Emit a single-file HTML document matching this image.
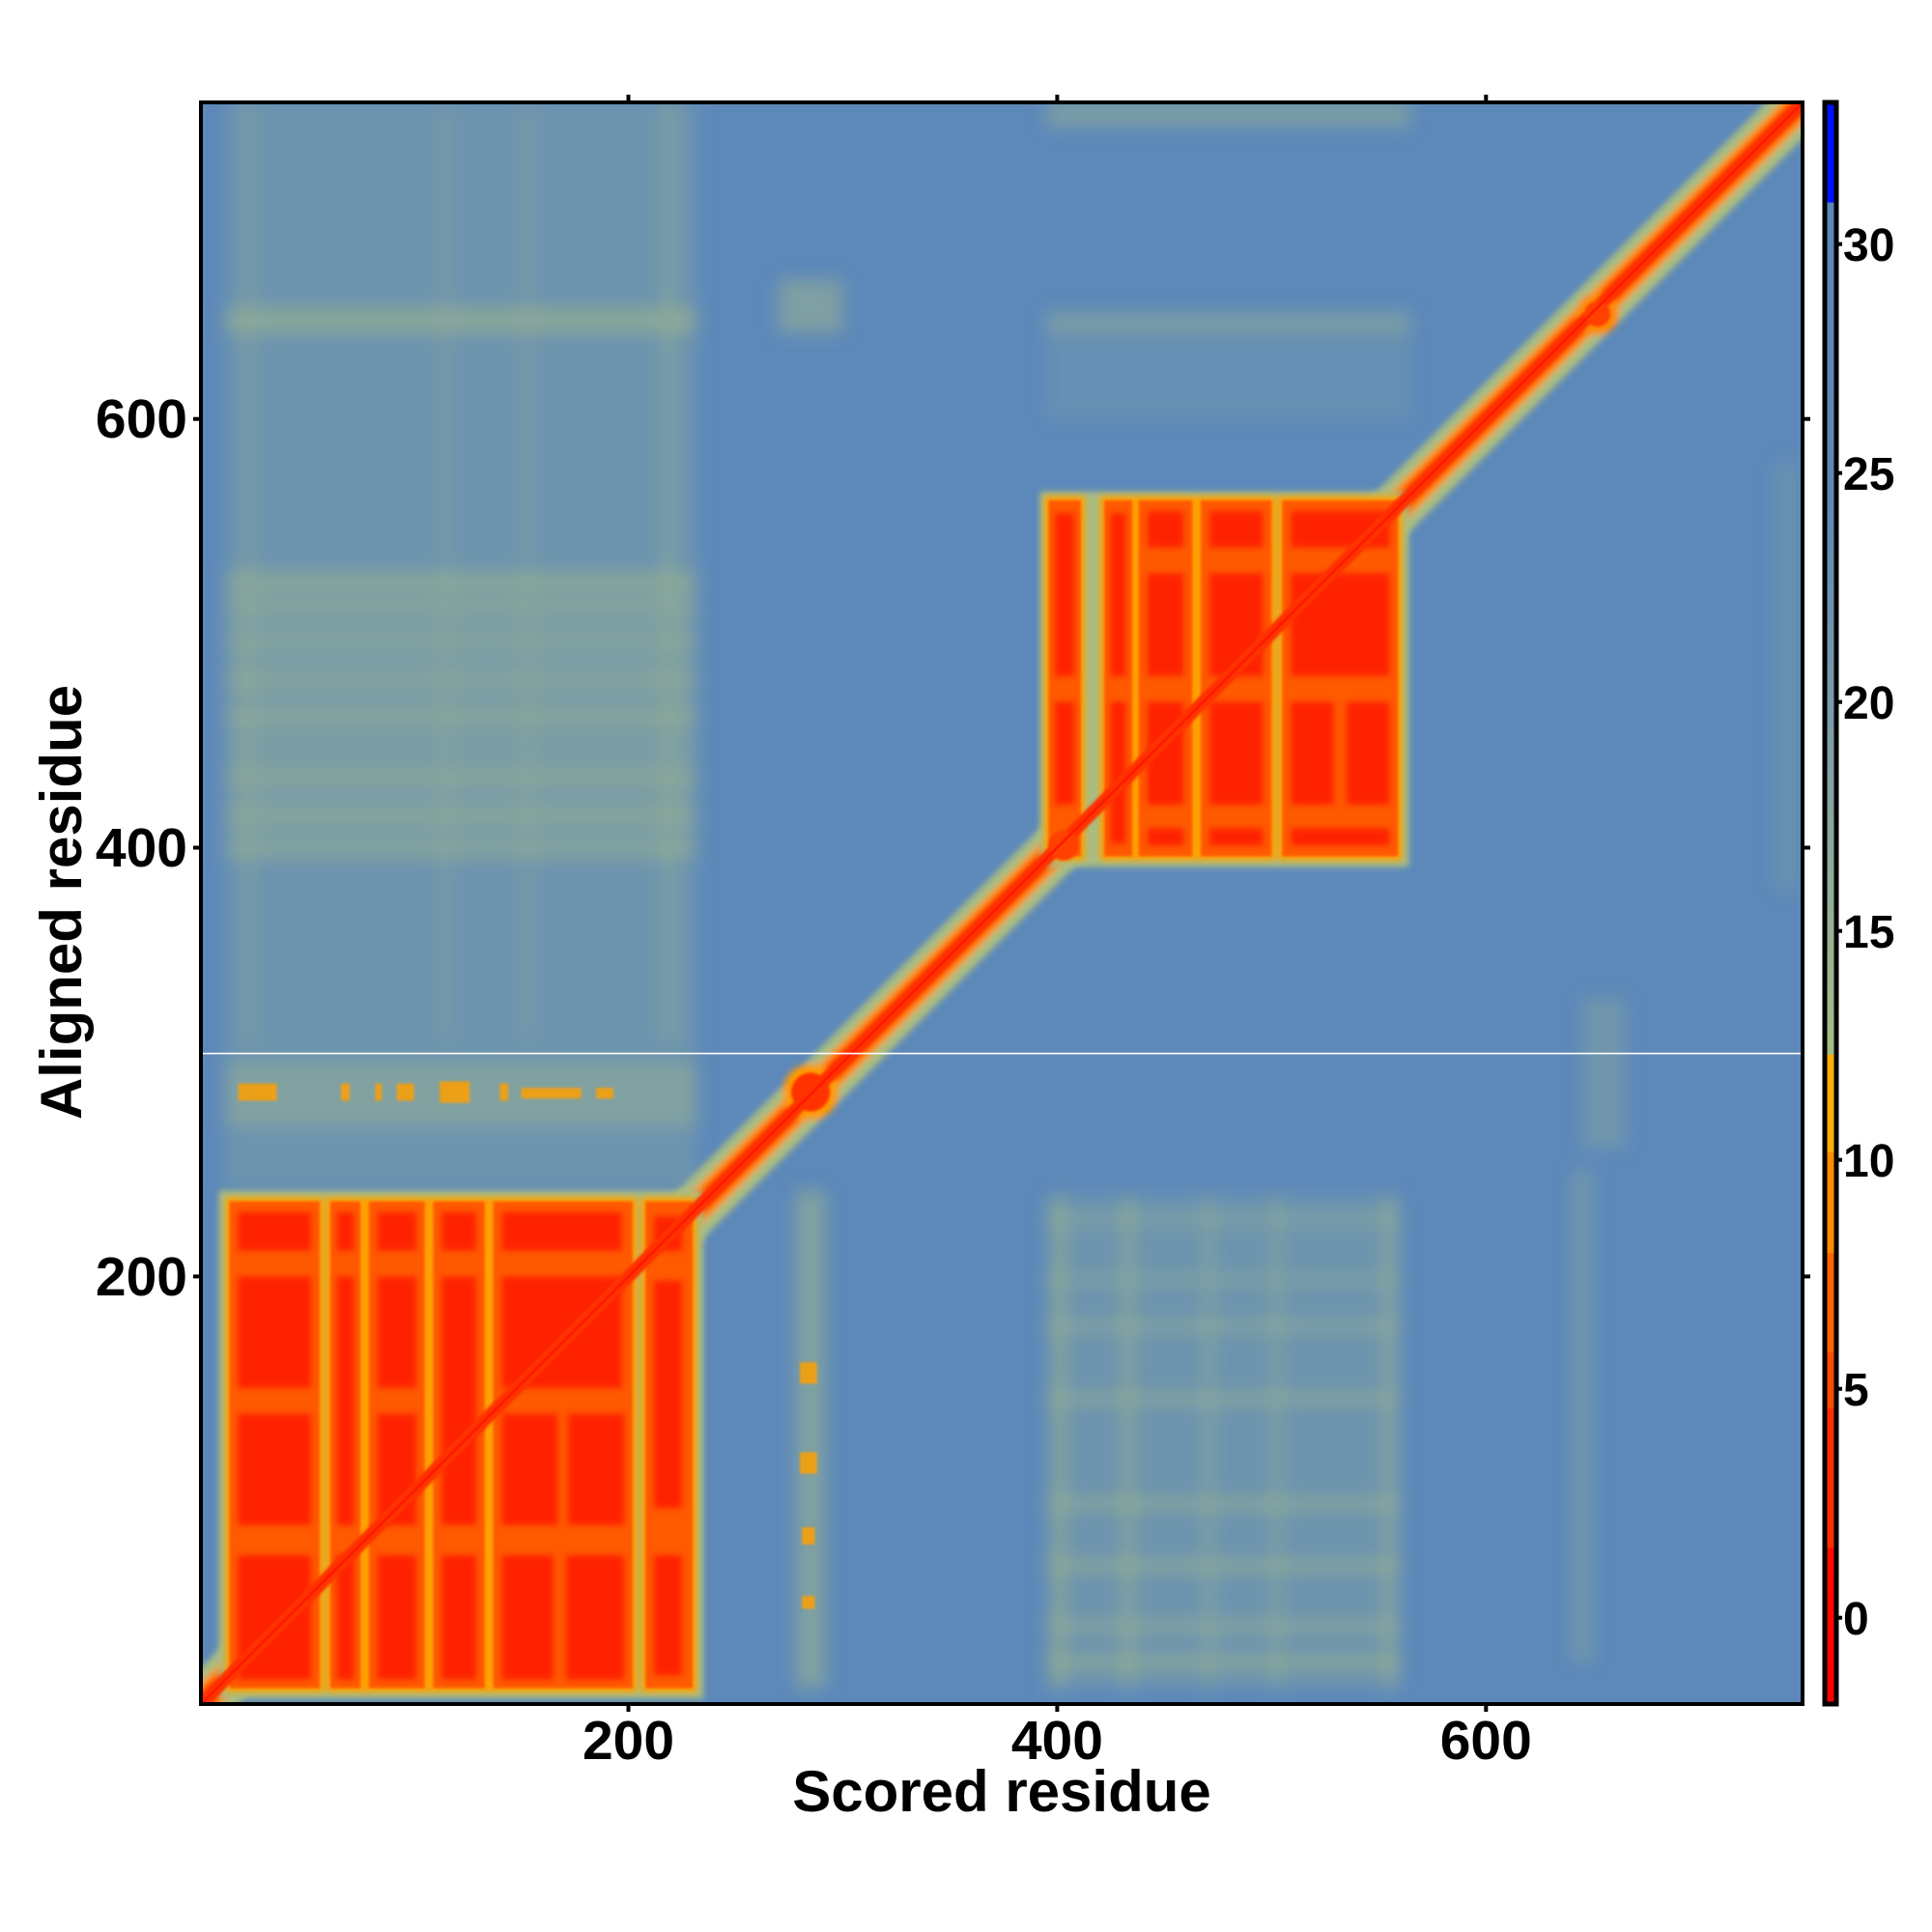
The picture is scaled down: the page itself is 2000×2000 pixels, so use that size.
<!DOCTYPE html>
<html><head><meta charset="utf-8"><style>
html,body{margin:0;padding:0;background:#fff;}
svg{display:block;}
text{font-family:"Liberation Sans",Arial,sans-serif;font-weight:bold;fill:#000;}
</style></head><body>
<svg width="2000" height="2000" viewBox="0 0 2000 2000" xmlns="http://www.w3.org/2000/svg">
<defs>
<clipPath id="c"><rect x="208" y="106" width="1658" height="1658"/></clipPath>
<filter id="b1" x="-20%" y="-20%" width="140%" height="140%"><feGaussianBlur stdDeviation="1.4"/></filter>
<filter id="b2" x="-20%" y="-20%" width="140%" height="140%"><feGaussianBlur stdDeviation="4"/></filter>
<filter id="b0" x="-20%" y="-20%" width="140%" height="140%"><feGaussianBlur stdDeviation="0.6"/></filter>
<linearGradient id="cb" x1="0" y1="0" x2="0" y2="1">
<stop offset="0" stop-color="#0010ff"/><stop offset="0.062" stop-color="#0010ff"/>
<stop offset="0.063" stop-color="#5a86b8"/>
<stop offset="0.25" stop-color="#5f88b4"/>
<stop offset="0.40" stop-color="#7f9ea8"/>
<stop offset="0.55" stop-color="#9db68e"/>
<stop offset="0.594" stop-color="#a6bc86"/>
<stop offset="0.595" stop-color="#ffb000"/><stop offset="0.655" stop-color="#ffb000"/>
<stop offset="0.656" stop-color="#ff8c00"/><stop offset="0.718" stop-color="#ff8c00"/>
<stop offset="0.719" stop-color="#ff6200"/><stop offset="0.78" stop-color="#ff6200"/>
<stop offset="0.781" stop-color="#ff4a00"/><stop offset="0.815" stop-color="#ff4a00"/>
<stop offset="0.816" stop-color="#ff2e00"/><stop offset="0.902" stop-color="#ff2e00"/>
<stop offset="0.903" stop-color="#ff0a00"/><stop offset="1" stop-color="#ff0000"/>
</linearGradient>
</defs>

<g clip-path="url(#c)">
<rect x="208" y="106" width="1658" height="1658" fill="#5d89ba"/>
<g transform="matrix(2.2195 0 0 -2.2195 206.6 1765.3)">
 <g filter="url(#b2)" fill="#9fb68c">
  <rect x="12" y="240" width="220" height="508" opacity="0.25"/>
  <rect x="12" y="640" width="220" height="12" opacity="0.55"/>
  <rect x="12" y="395" width="220" height="135" opacity="0.25"/>
  <rect x="12" y="521" width="220" height="6" opacity="0.45"/>
  <rect x="12" y="510" width="220" height="5" opacity="0.4"/>
  <rect x="12" y="494" width="220" height="5" opacity="0.35"/>
  <rect x="12" y="476" width="220" height="5" opacity="0.4"/>
  <rect x="12" y="458" width="220" height="6" opacity="0.4"/>
  <rect x="12" y="430" width="220" height="6" opacity="0.4"/>
  <rect x="12" y="412" width="220" height="6" opacity="0.4"/>
  <rect x="12" y="396" width="220" height="6" opacity="0.35"/>
  <rect x="12" y="270" width="220" height="30" opacity="0.4"/>
  <rect x="395" y="736" width="170" height="12" opacity="0.45"/>
  <rect x="395" y="600" width="170" height="50" opacity="0.15"/>
  <rect x="395" y="640" width="170" height="10" opacity="0.35"/>
  <rect x="270" y="640" width="30" height="25" opacity="0.5"/>
  <rect x="395" y="8" width="165" height="230" opacity="0.25"/>
  <rect x="278" y="8" width="14" height="232" opacity="0.55"/>
  <rect x="395" y="17" width="165" height="6" opacity="0.55"/>
  <rect x="395" y="34" width="165" height="6" opacity="0.45"/>
  <rect x="395" y="62" width="165" height="6" opacity="0.5"/>
  <rect x="395" y="91" width="165" height="6" opacity="0.5"/>
  <rect x="395" y="140" width="165" height="6" opacity="0.45"/>
  <rect x="395" y="174" width="165" height="6" opacity="0.4"/>
  <rect x="395" y="196" width="165" height="5" opacity="0.35"/>
  <rect x="395" y="224" width="165" height="5" opacity="0.35"/>
  <rect x="398" y="8" width="6" height="230" opacity="0.55"/>
  <rect x="430" y="8" width="6" height="230" opacity="0.45"/>
  <rect x="468" y="8" width="5" height="230" opacity="0.35"/>
  <rect x="500" y="8" width="5" height="230" opacity="0.35"/>
  <rect x="552" y="8" width="6" height="230" opacity="0.45"/>
  <rect x="640" y="20" width="10" height="230" opacity="0.3"/>
  <rect x="645" y="260" width="20" height="70" opacity="0.3"/>
  <rect x="20" y="310" width="6" height="438" opacity="0.25"/>
  <rect x="112" y="310" width="6" height="438" opacity="0.2"/>
  <rect x="150" y="310" width="6" height="438" opacity="0.2"/>
  <rect x="215" y="310" width="8" height="438" opacity="0.3"/>
  <rect x="735" y="380" width="10" height="200" opacity="0.2"/>
 </g>
 <g fill="#ffa000" opacity="0.85" filter="url(#b0)">
  <rect x="18" y="282" width="18" height="8"/>
  <rect x="66" y="282" width="4" height="8"/>
  <rect x="82" y="282" width="3" height="8"/>
  <rect x="92" y="282" width="8" height="8"/>
  <rect x="112" y="281" width="14" height="10"/>
  <rect x="140" y="282" width="4" height="8"/>
  <rect x="150" y="283" width="28" height="5"/>
  <rect x="185" y="283" width="8" height="5"/>
  <rect x="280" y="150" width="8" height="10"/>
  <rect x="280" y="108" width="8" height="10"/>
  <rect x="281" y="75" width="6" height="8"/>
  <rect x="281" y="45" width="6" height="6"/>
 </g>
 <g filter="url(#b1)">
  <line x1="-5" y1="-5" x2="755" y2="755" stroke="#a9bd82" stroke-width="24"/>
  <line x1="-5" y1="-5" x2="755" y2="755" stroke="#ff9a00" stroke-width="14"/>
  <line x1="-5" y1="-5" x2="755" y2="755" stroke="#ff5500" stroke-width="10"/>
  <circle cx="285" cy="286" r="13" fill="#ff9a00"/>
  <circle cx="652" cy="649" r="10" fill="#ff8a00"/>
 </g>
 <g>
  <g filter="url(#b1)" fill="#a9bd82">
   <rect x="9" y="3" width="226" height="237"/>
  </g>
  <g filter="url(#b1)" fill="#ffa000">
   <rect x="12" y="6" width="46" height="231"/><rect x="59" y="6" width="18" height="231"/>
   <rect x="77" y="6" width="30" height="231"/><rect x="107" y="6" width="28" height="231"/>
   <rect x="135" y="6" width="69" height="231"/><rect x="206" y="6" width="26" height="231"/>
  </g>
  <g fill="#ff5a00" filter="url(#b0)">
   <rect x="14" y="8" width="42" height="227"/><rect x="61" y="8" width="14" height="227"/>
   <rect x="79" y="8" width="26" height="227"/><rect x="109" y="8" width="24" height="227"/>
   <rect x="137" y="8" width="65" height="227"/><rect x="208" y="8" width="22" height="227"/>
  </g>
  <g fill="#ff2200" filter="url(#b1)">
   <rect x="18" y="12" width="34" height="58"/><rect x="18" y="84" width="34" height="52"/><rect x="18" y="148" width="34" height="52"/><rect x="18" y="212" width="34" height="18"/>
   <rect x="64" y="12" width="8" height="58"/><rect x="64" y="84" width="8" height="116"/><rect x="64" y="212" width="8" height="18"/>
   <rect x="83" y="12" width="18" height="58"/><rect x="83" y="84" width="18" height="52"/><rect x="83" y="148" width="18" height="52"/><rect x="83" y="212" width="18" height="18"/>
   <rect x="113" y="12" width="16" height="58"/><rect x="113" y="84" width="16" height="116"/><rect x="113" y="212" width="16" height="18"/>
   <rect x="141" y="12" width="24" height="58"/><rect x="171" y="12" width="27" height="58"/><rect x="141" y="84" width="26" height="52"/><rect x="172" y="84" width="26" height="52"/><rect x="141" y="148" width="56" height="52"/><rect x="141" y="212" width="56" height="18"/>
   <rect x="212" y="14" width="13" height="56"/><rect x="212" y="92" width="13" height="106"/><rect x="212" y="212" width="13" height="16"/>
  </g>
 </g>
 <g>
  <g filter="url(#b1)" fill="#a9bd82">
   <rect x="392" y="391" width="172" height="175"/>
  </g>
  <g filter="url(#b1)" fill="#ffa000">
   <rect x="394" y="394" width="19" height="170"/><rect x="420" y="394" width="17" height="170"/>
   <rect x="436" y="394" width="29" height="170"/><rect x="465" y="394" width="37" height="170"/>
   <rect x="503" y="394" width="58" height="170"/>
  </g>
  <g fill="#ff5a00" filter="url(#b0)">
   <rect x="396" y="396" width="15" height="166"/><rect x="422" y="396" width="13" height="166"/>
   <rect x="438" y="396" width="25" height="166"/><rect x="467" y="396" width="33" height="166"/>
   <rect x="505" y="396" width="54" height="166"/>
  </g>
  <g fill="#ff2200" filter="url(#b1)">
   <rect x="399" y="420" width="9" height="48"/><rect x="399" y="480" width="9" height="76"/>
   <rect x="425" y="402" width="7" height="66"/><rect x="425" y="480" width="7" height="76"/>
   <rect x="442" y="401" width="17" height="8"/><rect x="442" y="420" width="17" height="48"/><rect x="442" y="480" width="17" height="48"/><rect x="442" y="540" width="17" height="17"/>
   <rect x="471" y="401" width="25" height="8"/><rect x="471" y="420" width="25" height="48"/><rect x="471" y="480" width="25" height="48"/><rect x="471" y="540" width="25" height="17"/>
   <rect x="509" y="401" width="46" height="8"/><rect x="509" y="420" width="20" height="48"/><rect x="535" y="420" width="20" height="48"/><rect x="509" y="480" width="46" height="48"/><rect x="509" y="540" width="46" height="17"/>
  </g>
 </g>
 <g filter="url(#b0)">
  <line x1="-5" y1="-5" x2="755" y2="755" stroke="#ff3000" stroke-width="6"/>
  <circle cx="285" cy="286" r="9" fill="#ff3000"/>
  <circle cx="652" cy="649" r="6" fill="#ff4000"/>
  <circle cx="403" cy="401" r="7" fill="#ff4000"/>
 </g>
 <line x1="-5" y1="-5" x2="755" y2="755" stroke="#ff1a00" stroke-width="1.2"/>
 <line x1="0" y1="304" x2="750" y2="304" stroke="#ffffff" stroke-width="0.7"/>
</g>
</g>

<rect x="208" y="106" width="1658" height="1658" fill="none" stroke="#000" stroke-width="4"/>
<g stroke="#000" stroke-width="4">
 <line x1="650.5" y1="1764" x2="650.5" y2="1772"/><line x1="1094.4" y1="1764" x2="1094.4" y2="1772"/><line x1="1538.3" y1="1764" x2="1538.3" y2="1772"/>
 <line x1="650.5" y1="106" x2="650.5" y2="98"/><line x1="1094.4" y1="106" x2="1094.4" y2="98"/><line x1="1538.3" y1="106" x2="1538.3" y2="98"/>
 <line x1="208" y1="1321.4" x2="200" y2="1321.4"/><line x1="208" y1="877.5" x2="200" y2="877.5"/><line x1="208" y1="433.7" x2="200" y2="433.7"/>
 <line x1="1866" y1="1321.4" x2="1874" y2="1321.4"/><line x1="1866" y1="877.5" x2="1874" y2="877.5"/><line x1="1866" y1="433.7" x2="1874" y2="433.7"/>
</g>
<g font-size="57" text-anchor="middle">
 <text x="650.5" y="1821">200</text><text x="1094.4" y="1821">400</text><text x="1538.3" y="1821">600</text>
</g>
<g font-size="57" text-anchor="end">
 <text x="194" y="1341">200</text><text x="194" y="897">400</text><text x="194" y="453">600</text>
</g>
<text x="1037" y="1875" font-size="60" text-anchor="middle">Scored residue</text>
<text transform="translate(84,934) rotate(-90)" font-size="60" text-anchor="middle">Aligned residue</text>

<rect x="1889" y="106" width="12" height="1658" fill="url(#cb)" stroke="#000" stroke-width="5"/>
<g stroke="#000" stroke-width="4">
 <line x1="1901" y1="1674.7" x2="1907" y2="1674.7"/><line x1="1901" y1="1437.7" x2="1907" y2="1437.7"/><line x1="1901" y1="1200.7" x2="1907" y2="1200.7"/>
 <line x1="1901" y1="963.7" x2="1907" y2="963.7"/><line x1="1901" y1="726.7" x2="1907" y2="726.7"/><line x1="1901" y1="489.7" x2="1907" y2="489.7"/><line x1="1901" y1="252.7" x2="1907" y2="252.7"/>
</g>
<g font-size="48">
 <text x="1908" y="1692">0</text><text x="1908" y="1455">5</text><text x="1908" y="1218">10</text>
 <text x="1908" y="981">15</text><text x="1908" y="744">20</text><text x="1908" y="507">25</text><text x="1908" y="270">30</text>
</g>
</svg>
</body></html>
